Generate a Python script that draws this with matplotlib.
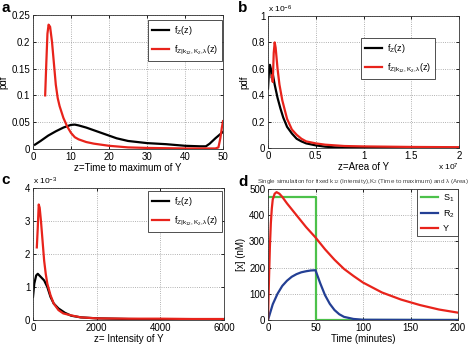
import matplotlib
matplotlib.use("Agg")
import matplotlib.pyplot as plt

plt.rcParams.update(
    {
        "font.family": "Liberation Sans",
        "mathtext.fontset": "custom",
        "mathtext.rm": "Liberation Sans",
        "mathtext.it": "Liberation Sans",
        "mathtext.bf": "Liberation Sans:bold",
        "font.size": 7,
    }
)

# panel a: time to maximum of Y
a_black_z = [0.5, 2, 4, 6, 8, 10, 11, 12, 14, 16, 18, 20, 22, 25, 30, 35, 40, 44, 45.5, 46.5, 48, 50]
a_black_p = [0.008, 0.015, 0.025, 0.033, 0.04, 0.045, 0.0455, 0.044, 0.04, 0.035, 0.03, 0.025,
             0.02, 0.015, 0.011, 0.009, 0.006, 0.005, 0.005, 0.01, 0.02, 0.032]
a_red_z = [3.2, 3.5, 3.8, 4.1, 4.5, 5, 5.5, 6, 6.5, 7, 8, 9, 10, 11, 12, 14, 16, 18, 20, 25, 30,
           35, 40, 45, 48, 48.8, 49.3, 49.7, 50]
a_red_p = [0.10, 0.16, 0.215, 0.232, 0.228, 0.2, 0.16, 0.12, 0.095, 0.08, 0.058, 0.042, 0.03,
           0.022, 0.018, 0.013, 0.01, 0.008, 0.006, 0.003, 0.002, 0.0015, 0.001, 0.001, 0.001,
           0.003, 0.02, 0.04, 0.052]

# panel b: area of Y (z in 1e7, pdf in 1e-6)
b_black_z = [0, 0.01, 0.02, 0.03, 0.04, 0.05, 0.07, 0.1, 0.13, 0.16, 0.2, 0.25, 0.3, 0.35, 0.4,
             0.5, 0.6, 0.7, 0.8, 1.0, 2.0]
b_black_p = [0.45, 0.58, 0.63, 0.6, 0.53, 0.56, 0.48, 0.38, 0.3, 0.23, 0.16, 0.11, 0.07, 0.05,
             0.035, 0.02, 0.01, 0.005, 0.003, 0.002, 0.001]
b_red_z = [0.04, 0.05, 0.06, 0.07, 0.08, 0.1, 0.12, 0.15, 0.2, 0.25, 0.3, 0.35, 0.4, 0.5, 0.6,
           0.8, 1.0, 1.5, 2.0]
b_red_p = [0.55, 0.5, 0.72, 0.8, 0.76, 0.6, 0.48, 0.36, 0.22, 0.14, 0.1, 0.07, 0.05, 0.035,
           0.025, 0.015, 0.012, 0.008, 0.006]

# panel c: intensity of Y (pdf in 1e-3)
c_black_z = [0, 40, 100, 150, 250, 350, 450, 550, 650, 800, 1000, 1200, 1500, 2000, 3000, 4000, 6000]
c_black_p = [0.7, 1.1, 1.35, 1.4, 1.3, 1.2, 1.0, 0.7, 0.5, 0.35, 0.22, 0.13, 0.08, 0.05, 0.03,
             0.02, 0.01]
c_red_z = [120, 150, 180, 210, 250, 300, 350, 400, 450, 550, 650, 800, 950, 1200, 1500, 2000,
           3000, 4000, 5000, 6000]
c_red_p = [2.2, 2.8, 3.5, 3.4, 3.0, 2.4, 1.8, 1.4, 1.1, 0.75, 0.5, 0.3, 0.2, 0.14, 0.08, 0.05,
           0.04, 0.04, 0.03, 0.03]

# panel d: single simulation
s1_t = [0, 50, 50, 200]
s1_x = [470, 470, 0, 0]
r2_t = [0, 5, 10, 15, 20, 25, 30, 35, 40, 45, 50, 52, 55, 60, 65, 70, 75, 80, 90, 100, 200]
r2_x = [0, 60, 100, 130, 150, 165, 175, 182, 186, 189, 190, 170, 140, 95, 62, 38, 22, 12, 4, 1, 0]
y_t = [0, 1, 2, 3, 4, 5, 7, 9, 12, 15, 20, 30, 40, 50, 60, 70, 80, 90, 100, 120, 140, 160, 180, 200]
y_x = [0, 150, 280, 370, 425, 460, 482, 488, 482, 470, 445, 400, 355, 315, 270, 230, 195, 168,
       143, 105, 78, 57, 40, 28]

BLACK = "black"
RED = "#e8231b"
GREEN = "#4cc14a"
BLUE = "#233f94"
LW = 1.6

lab_z = r"f$_{\rm Z}$(z)"
lab_cond = r"f$_{\rm Z|k_{12},K_2,\lambda}$(z)"

W, H = 472, 344
fig = plt.figure(figsize=(W / 100, H / 100), dpi=100)


def add_ax(left, top, right, bottom):
    return fig.add_axes([left / W, 1 - bottom / H, (right - left) / W, (bottom - top) / H])


def style(ax):
    ax.grid(True, linestyle=":", color="#999999", lw=0.6)
    ax.tick_params(direction="in", length=2.5, width=0.6, top=True, right=True, labelsize=7, pad=2)
    for s in ax.spines.values():
        s.set_linewidth(0.6)
        s.set_color("#333333")


ax_a = add_ax(33, 15, 223, 149)
ax_a.plot(a_black_z, a_black_p, color=BLACK, lw=LW, label=lab_z)
ax_a.plot(a_red_z, a_red_p, color=RED, lw=LW, label=lab_cond)
ax_a.set_xlim(0, 50)
ax_a.set_ylim(0, 0.25)
ax_a.set_xticks([0, 10, 20, 30, 40, 50])
ax_a.set_yticks([0, 0.05, 0.1, 0.15, 0.2, 0.25])
ax_a.set_yticklabels(["0", "0.05", "0.1", "0.15", "0.2", "0.25"])
ax_a.set_xlabel("z=Time to maximum of Y", labelpad=1)
ax_a.set_ylabel("pdf", labelpad=2)

ax_b = add_ax(268, 16, 459, 148)
ax_b.plot(b_black_z, b_black_p, color=BLACK, lw=LW, label=lab_z)
ax_b.plot(b_red_z, b_red_p, color=RED, lw=LW, label=lab_cond)
ax_b.set_xlim(0, 2)
ax_b.set_ylim(0, 1)
ax_b.set_xticks([0, 0.5, 1, 1.5, 2])
ax_b.set_xticklabels(["0", "0.5", "1", "1.5", "2"])
ax_b.set_yticks([0, 0.2, 0.4, 0.6, 0.8, 1])
ax_b.set_yticklabels(["0", "0.2", "0.4", "0.6", "0.8", "1"])
ax_b.set_xlabel("z=Area of Y", labelpad=1)
ax_b.set_ylabel("pdf", labelpad=2)
ax_b.text(0.0, 1.01, r"x 10$^{-6}$", transform=ax_b.transAxes, fontsize=6, va="bottom")
ax_b.text(1.0, -0.105, r"x 10$^{7}$", transform=ax_b.transAxes, fontsize=6, va="top", ha="right")

ax_c = add_ax(33, 188, 224, 320)
ax_c.plot(c_black_z, c_black_p, color=BLACK, lw=LW, label=lab_z)
ax_c.plot(c_red_z, c_red_p, color=RED, lw=LW, label=lab_cond)
ax_c.set_xlim(0, 6000)
ax_c.set_ylim(0, 4)
ax_c.set_xticks([0, 2000, 4000, 6000])
ax_c.set_yticks([0, 1, 2, 3, 4])
ax_c.set_xlabel("z= Intensity of Y", labelpad=1)
ax_c.text(0.0, 1.01, r"x 10$^{-3}$", transform=ax_c.transAxes, fontsize=6, va="bottom")

ax_d = add_ax(268, 189, 458, 320)
ax_d.plot(s1_t, s1_x, color=GREEN, lw=LW, label=r"S$_1$")
ax_d.plot(r2_t, r2_x, color=BLUE, lw=LW, label=r"R$_2$")
ax_d.plot(y_t, y_x, color=RED, lw=LW, label="Y")
ax_d.set_xlim(0, 200)
ax_d.set_ylim(0, 500)
ax_d.set_xticks([0, 50, 100, 150, 200])
ax_d.set_yticks([0, 100, 200, 300, 400, 500])
ax_d.set_xlabel("Time (minutes)", labelpad=1)
ax_d.set_ylabel("[x] (nM)", labelpad=2)
ax_d.set_title(r"Single simulation for fixed k$_{12}$ (Intensity),K$_2$ (Time to maximum) and $\lambda$ (Area)",
               fontsize=4.5, color="#444444", pad=4)

for ax in (ax_a, ax_b, ax_c, ax_d):
    style(ax)

leg_kw = dict(fancybox=False, edgecolor="#333333", framealpha=1, fontsize=6.5,
              handlelength=1.9, handletextpad=0.5, borderpad=0.45, labelspacing=0.7)
legend_boxes = {ax_a: (148, 20), ax_b: (361, 38), ax_c: (148, 191)}
for ax, (px, py) in legend_boxes.items():
    pos = ax.get_position()
    anchor = ((px / W - pos.x0) / pos.width, (1 - py / H - pos.y0) / pos.height)
    leg = ax.legend(loc="upper left", bbox_to_anchor=anchor, borderaxespad=0, **leg_kw)
    leg.get_frame().set_linewidth(0.6)
ax_d.legend(fancybox=False, edgecolor="#333333", framealpha=1, fontsize=6.5, handlelength=1.9,
            handletextpad=0.5, borderaxespad=0.0, labelspacing=0.45,
            loc="upper right").get_frame().set_linewidth(0.6)

for lbl, x, y in (("a", 2, 1), ("b", 238, 1), ("c", 1, 173), ("d", 238, 175)):
    fig.text(x / W, 1 - y / H, lbl, fontsize=11, fontweight="bold", va="top", ha="left")

fig.savefig("out.png", dpi=100)
